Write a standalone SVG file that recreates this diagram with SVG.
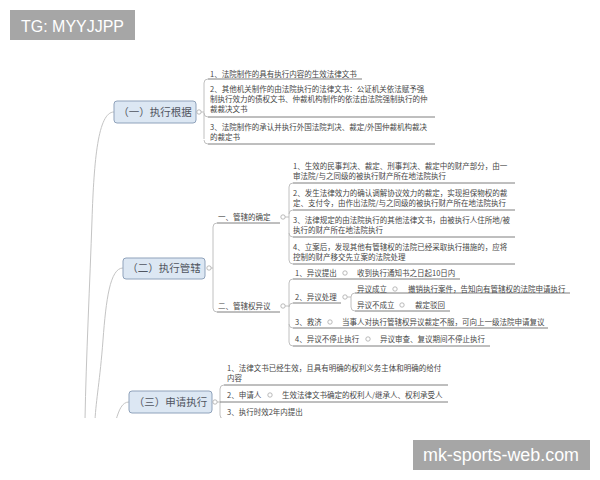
<svg xmlns="http://www.w3.org/2000/svg" width="600" height="480" viewBox="0 0 600 480">
<style>
.t{font-family:"Noto Sans CJK SC","Noto Sans",sans-serif;font-size:7.5px;fill:#464646}
.m{font-family:"Noto Sans CJK SC","Noto Sans",sans-serif;font-size:10.5px;fill:#505560;text-anchor:middle}
.box{fill:#dce7f3;stroke:#8fa2bb;stroke-width:1}
.c{fill:#fff;stroke:#a8a8a8;stroke-width:0.8}
.br{fill:none;stroke:#b9b9b9;stroke-width:0.9}
.ul{fill:none;stroke:#7f7f7f;stroke-width:1}
.trunk{fill:none;stroke:#c4c4c4;stroke-width:1}
.wm{font-family:"Liberation Sans",Arial,sans-serif;fill:#fff}
</style>
<defs>
<clipPath id="clip"><rect x="0" y="45" width="600" height="373"/></clipPath>
</defs>
<rect width="600" height="480" fill="#fff"/>
<g clip-path="url(#clip)">
<g id="connectors">
<path class="trunk" d="M114 112 C98 112 94 160 92 220 S86 360 85 420"/>
<path class="trunk" d="M123 268 C110 268 106 300 103 340 S96 400 95 420"/>
<path class="trunk" d="M129 402 C122 402 119 410 116 420"/>
<path class="br" d="M201.2 112 H204 M204 83 V139 M204 83 Q204 79 208 79 M204 113 Q204 117 208 117 M204 140 Q204 144 208 144"/>
<path class="ul" d="M208 79 H362 M208 117 H435 M208 144 H435"/>
<path class="br" d="M211.2 268 H213 M213 227 V308 M213 227 Q213 223 217 223 M213 308 Q213 312 217 312"/>
<path class="ul" d="M217 223 H280 M217 312 H280"/>
<path class="br" d="M285.2 217 H289 M289 187 V260 M289 187 Q289 183 293 183 M289 214 Q289 210 293 210 M289 233 Q289 237 293 237 M289 260 Q289 264 293 264"/>
<path class="ul" d="M293 183 H515 M293 210 H515 M293 237 H515 M293 264 H515"/>
<path class="br" d="M285.2 306 H289 M289 283 V342 M289 283 Q289 279 293 279 M289 307 Q289 303 293 303 M289 324 Q289 328 293 328 M289 342 Q289 346 293 346"/>
<path class="ul" d="M293 279 H460 M293 303 H341 M293 328 H548 M293 346 H490"/>
<path class="br" d="M347.2 297 H351 M351 297 V307 M351 297 Q351 293 355 293 M351 307 Q351 311 355 311"/>
<path class="ul" d="M355 293 H570 M355 311 H450"/>
<path class="br" d="M217.2 402 H220 M220 389 V415 M220 389 Q220 385 224 385 M220 415 Q220 419 224 419"/>
<path class="ul" d="M224 385 H448 M220 402 H448 M224 419 H310"/>
</g>
<g id="n1">
<rect class="box" x="114" y="101" width="82" height="22" rx="3"/>
<text class="m" x="155" y="115.8">（一）执行根据</text>
<circle class="c" cx="199" cy="112" r="2.2"/>
</g>
<g id="n1-1"><text class="t" x="210" y="77">1、法院制作的具有执行内容的生效法律文书</text></g>
<g id="n1-2">
<text class="t" x="210" y="91.5">2、其他机关制作的由法院执行的法律文书：公证机关依法赋予强</text>
<text class="t" x="210" y="101.5">制执行效力的债权文书、仲裁机构制作的依法由法院强制执行的仲</text>
<text class="t" x="210" y="111.5">裁裁决文书</text>
</g>
<g id="n1-3">
<text class="t" x="210" y="130">3、法院制作的承认并执行外国法院判决、裁定/外国仲裁机构裁决</text>
<text class="t" x="210" y="140">的裁定书</text>
</g>
<g id="n2">
<rect class="box" x="123" y="258" width="82" height="21" rx="3"/>
<text class="m" x="164" y="272.3">（二）执行管辖</text>
<circle class="c" cx="209" cy="268" r="2.2"/>
</g>
<g id="n2-1">
<text class="t" x="218" y="219.7">一、管辖的确定</text>
<circle class="c" cx="283" cy="217" r="2.2"/>
</g>
<g id="n2-1-1">
<text class="t" x="293" y="168.7">1、生效的民事判决、裁定、刑事判决、裁定中的财产部分，由一</text>
<text class="t" x="293" y="178.7">审法院/与之同级的被执行财产所在地法院执行</text>
</g>
<g id="n2-1-2">
<text class="t" x="293" y="195.7">2、发生法律效力的确认调解协议效力的裁定，实现担保物权的裁</text>
<text class="t" x="293" y="205.7">定、支付令，由作出法院/与之同级的被执行财产所在地法院执行</text>
</g>
<g id="n2-1-3">
<text class="t" x="293" y="222.5">3、法律规定的由法院执行的其他法律文书，由被执行人住所地/被</text>
<text class="t" x="293" y="232.5">执行的财产所在地法院执行</text>
</g>
<g id="n2-1-4">
<text class="t" x="293" y="249.5">4、立案后，发现其他有管辖权的法院已经采取执行措施的，应将</text>
<text class="t" x="293" y="259.5">控制的财产移交先立案的法院处理</text>
</g>
<g id="n2-2">
<text class="t" x="218" y="308.7">二、管辖权异议</text>
<circle class="c" cx="283" cy="306" r="2.2"/>
</g>
<g id="n2-2-1">
<text class="t" x="295" y="275.7">1、异议提出</text>
<circle class="c" cx="345" cy="273" r="2.2"/>
<text class="t" x="357" y="275.7">收到执行通知书之日起10日内</text>
</g>
<g id="n2-2-2">
<text class="t" x="295" y="299.7">2、异议处理</text>
<circle class="c" cx="345" cy="297" r="2.2"/>
</g>
<g id="n2-2-2a">
<text class="t" x="357" y="291.7">异议成立</text>
<circle class="c" cx="395" cy="289" r="2.2"/>
<text class="t" x="408" y="291.7">撤销执行案件，告知向有管辖权的法院申请执行</text>
</g>
<g id="n2-2-2b">
<text class="t" x="357" y="307.7">异议不成立</text>
<circle class="c" cx="402" cy="305" r="2.2"/>
<text class="t" x="415" y="307.7">裁定驳回</text>
</g>
<g id="n2-2-3">
<text class="t" x="295" y="324.7">3、救济</text>
<circle class="c" cx="330" cy="322" r="2.2"/>
<text class="t" x="342" y="324.7">当事人对执行管辖权异议裁定不服，可向上一级法院申请复议</text>
</g>
<g id="n2-2-4">
<text class="t" x="295" y="341.7">4、异议不停止执行</text>
<circle class="c" cx="368" cy="339" r="2.2"/>
<text class="t" x="380" y="341.7">异议审查、复议期间不停止执行</text>
</g>
<g id="n3">
<rect class="box" x="129" y="391" width="83" height="22" rx="3"/>
<text class="m" x="170.5" y="405.8">（三）申请执行</text>
<circle class="c" cx="215" cy="402" r="2.2"/>
</g>
<g id="n3-1">
<text class="t" x="227" y="370.7">1、法律文书已经生效，且具有明确的权利义务主体和明确的给付</text>
<text class="t" x="227" y="380.7">内容</text>
</g>
<g id="n3-2">
<text class="t" x="227" y="397.7">2、申请人</text>
<circle class="c" cx="270" cy="395" r="2.2"/>
<text class="t" x="282" y="397.7">生效法律文书确定的权利人/继承人、权利承受人</text>
</g>
<g id="n3-3"><text class="t" x="227" y="414.7">3、执行时效2年内提出</text></g>
</g>
<g id="wm1">
<rect x="10" y="10" width="125" height="30" fill="#a6a6a6"/>
<text class="wm" x="21" y="31.5" font-size="17" textLength="103" lengthAdjust="spacingAndGlyphs">TG: MYYJJPP</text>
</g>
<g id="wm2">
<rect x="413" y="440" width="177" height="30" fill="#a6a6a6"/>
<text class="wm" x="423" y="461" font-size="18" textLength="156" lengthAdjust="spacingAndGlyphs">mk-sports-web.com</text>
</g>
</svg>
